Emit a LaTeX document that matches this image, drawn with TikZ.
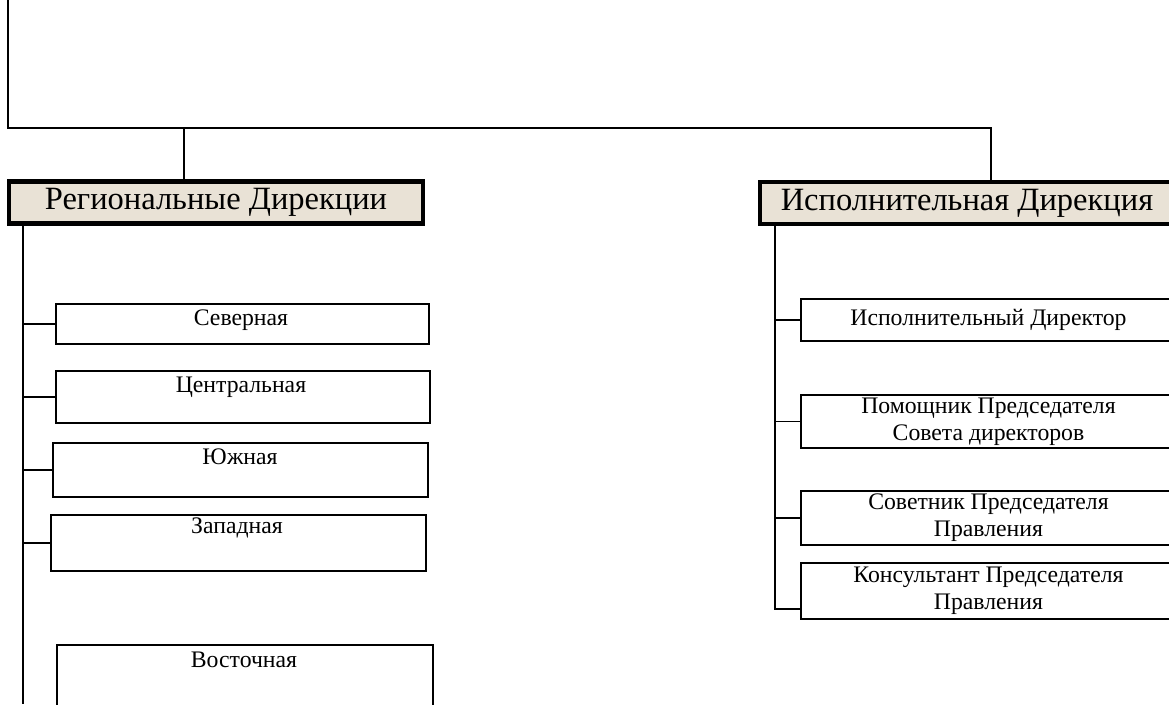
\documentclass[tikz,border=0pt]{standalone}
\usepackage{fontspec}
\setmainfont{Liberation Serif}
\usetikzlibrary{positioning}

\newlength\pxu
\setlength\pxu{0.02cm}
\definecolor{dirfill}{RGB}{233,226,214}

\tikzset{
  link/.style={line width=1.1pt},
  dirbox/.style={draw, line width=2.4pt, fill=dirfill, inner sep=0pt,
    minimum width=414*\pxu, minimum height=42*\pxu,
    font=\fontsize{18.5}{21}\selectfont},
  unitbox/.style={draw, line width=1.1pt, inner sep=0pt, anchor=north west,
    minimum width=375*\pxu},
  unittext/.style={font=\fontsize{13.5}{15.5}\selectfont, align=center, inner sep=0pt},
}

\begin{document}
\begin{tikzpicture}[x=0.02cm, y=-0.02cm]
  \useasboundingbox (0,0) rectangle (1169,704);
  \clip (0,0) rectangle (1169,704);

  % headers
  \node[dirbox] (hreg) at (216,202.5) {Региональные Дирекции};
  \node[dirbox] (hexe) at (967,203) {Исполнительная Дирекция};

  % top links
  \coordinate (top) at (8,0);
  \coordinate (jL) at (184,128);
  \coordinate (jR) at (991,128);
  \draw[link] (top) |- (jR) -- (jR |- hexe.north);
  \draw[link] (jL) -- (jL |- hreg.north);

  % regional units
  \node[unitbox, minimum width=373*\pxu, minimum height=40*\pxu] (sev) at (55,303) {};
  \node[unitbox, minimum width=374*\pxu, minimum height=52*\pxu] (cen) at (55,370) {};
  \node[unitbox, minimum height=54*\pxu] (yuz) at (52,442) {};
  \node[unitbox, minimum height=56*\pxu] (zap) at (50,514) {};
  \node[unitbox, minimum width=376*\pxu, minimum height=80*\pxu] (vos) at (56,644) {};
  \node[unittext] (tsev) at (241,320) {Северная};
  \node[unittext] (tcen) at (241,387) {Центральная};
  \node[unittext] (tyuz) at (240,457) {Южная};
  \node[unittext] (tzap) at (237,528) {Западная};
  \node[unittext] (tvos) at (244,660) {Восточная};

  \coordinate (lend) at (23,704);
  \draw[link] (hreg.south -| lend) -- (lend);
  \foreach \b in {sev,cen,yuz,zap}
    \draw[link] (\b.west -| lend) -- (\b.west);

  % executive units
  \node[unitbox, unittext, minimum height=42*\pxu] (isp) at (800,298) {Исполнительный Директор};
  \node[unitbox, unittext, minimum height=53*\pxu] (pom) at (800,394) {Помощник Председателя\\Совета директоров};
  \node[unitbox, unittext, minimum height=54*\pxu] (sov) at (800,490) {Советник Председателя\\Правления};
  \node[unitbox, unittext, minimum height=56*\pxu] (kon) at (800,562) {Консультант Председателя\\Правления};

  \coordinate (rend) at (775,609);
  \draw[link] (hexe.south -| rend) -- (rend) -- (rend -| kon.west);
  \foreach \b in {isp,pom,sov}
    \draw[link] (\b.west -| rend) -- (\b.west);
\end{tikzpicture}
\end{document}
